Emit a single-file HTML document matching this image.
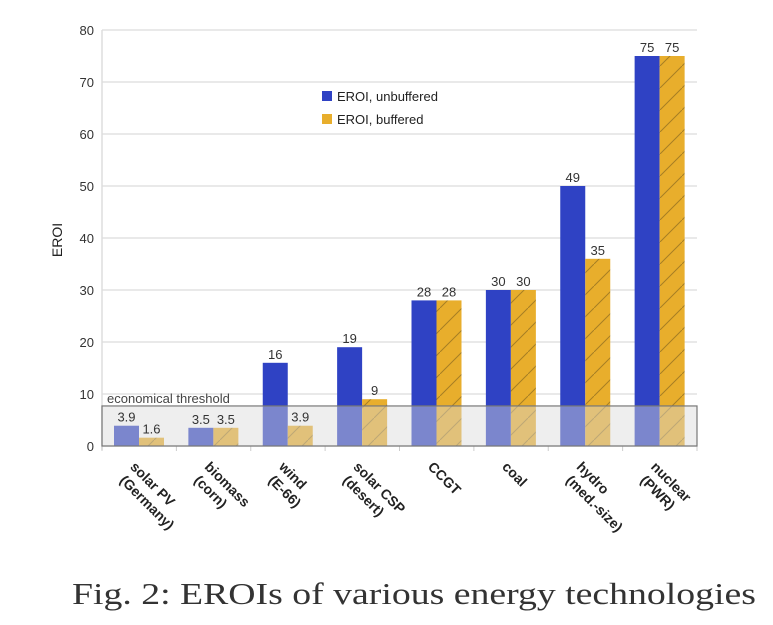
<!DOCTYPE html>
<html><head><meta charset="utf-8"><style>
body{margin:0;background:#fff;width:773px;height:620px;overflow:hidden}
svg{font-family:"Liberation Sans",sans-serif}
</style></head><body>
<svg width="773" height="620">
<defs>
<pattern id="hatch" patternUnits="userSpaceOnUse" width="22" height="22">
<rect width="22" height="22" fill="#e8ae2c"/>
<path d="M0,22 L22,0" stroke="#8a6a20" stroke-width="1" opacity="0.7"/>
</pattern>
</defs>
<g id="grid"></g>
<g id="bars"></g>
<g id="over"></g>
<text x="62" y="240" transform="rotate(-90 62 240)" text-anchor="middle" font-size="14" fill="#222">EROI</text>
<g>
<rect x="322" y="91" width="10" height="10" fill="#2f42c4"/>
<text x="337" y="101" font-size="13" fill="#222">EROI, unbuffered</text>
<rect x="322" y="114" width="10" height="10" fill="#e8ae2c"/>
<text x="337" y="124" font-size="13" fill="#222">EROI, buffered</text>
</g>
<text x="72" y="604" font-family="Liberation Serif,serif" font-size="31" fill="#333" textLength="684" lengthAdjust="spacingAndGlyphs">Fig. 2: EROIs of various energy technologies</text>
</svg>
<script>
const categories=[["solar PV","(Germany)"],["biomass","(corn)"],["wind","(E-66)"],["solar CSP","(desert)"],["CCGT"],["coal"],["hydro","(med.-size)"],["nuclear","(PWR)"]];
const unbuffered=[3.9,3.5,16,19,28,30,50,75];
const buffered=[1.6,3.5,3.9,9,28,30,36,75];
const unbufferedLabels=["3.9","3.5","16","19","28","30","49","75"];
const bufferedLabels=["1.6","3.5","3.9","9","28","30","35","75"];
const yTicks=[0,10,20,30,40,50,60,70,80];
const threshold=7.7;

const NS="http://www.w3.org/2000/svg";
const X0=102,X1=697,Y0=446,Y80=30;
const y=v=>Y0-(v/80)*(Y0-Y80);
const cw=(X1-X0)/categories.length;
const cx=i=>X0+i*cw;
function mk(tag,attrs,parent,txt){const e=document.createElementNS(NS,tag);for(const k in attrs)e.setAttribute(k,attrs[k]);if(txt!==undefined)e.textContent=txt;parent.appendChild(e);return e;}
const grid=document.getElementById('grid'),bars=document.getElementById('bars'),over=document.getElementById('over');
yTicks.forEach(t=>{
 const l=mk('line',{x1:X0,x2:X1,y1:y(t),y2:y(t),stroke:'#e2e2e2','stroke-width':1.5},grid);
 
 
 const tx=mk('text',{x:X0-8,y:y(t)+5,'text-anchor':'end','font-size':13,fill:'#333'},grid,String(t));
 
 
});
const ax=mk('line',{x1:X0,x2:X0,y1:Y80,y2:Y0+4,stroke:'#ddd','stroke-width':1.5},grid);


for(let i=0;i<=categories.length;i++){const t=mk('line',{x1:cx(i),x2:cx(i),y1:Y0,y2:Y0+5,stroke:'#ccc'},grid);}
const bw=25;
categories.forEach((c,i)=>{
 const bx=cx(i)+12;
 const b1=mk('rect',{x:bx,y:y(unbuffered[i]),width:bw,height:Y0-y(unbuffered[i]),fill:'#2f42c4'},bars);
 
 
 const b2=mk('rect',{x:bx+bw,y:y(buffered[i]),width:bw,height:Y0-y(buffered[i]),fill:'url(#hatch)'},bars);
 
 
 const l1=mk('text',{x:bx+bw/2,y:y(unbuffered[i])-4,'text-anchor':'middle','font-size':13,fill:'#333'},over,unbufferedLabels[i]);
 
 
 const l2=mk('text',{x:bx+bw*1.5,y:y(buffered[i])-4,'text-anchor':'middle','font-size':13,fill:'#333'},over,bufferedLabels[i]);
 
 
 const mx=cx(i)+cw/2-4, my=Y0+16;
 const g=mk('text',{transform:`translate(${mx},${my}) rotate(45)`,'text-anchor':'start','font-size':14,'font-weight':'bold',fill:'#222'},over);
 
 
 c.forEach((ln,k)=>{mk('tspan',{x:k*2,y:k*17+8},g,ln);});
});
const box=mk('rect',{x:X0,y:y(threshold),width:X1-X0,height:Y0-y(threshold),fill:'#dadada','fill-opacity':0.45,stroke:'#777','stroke-width':1.2},bars);


const bl=mk('text',{x:X0+5,y:y(threshold)-3,'font-size':13,fill:'#444'},over,'economical threshold');


</script>
</body></html>
